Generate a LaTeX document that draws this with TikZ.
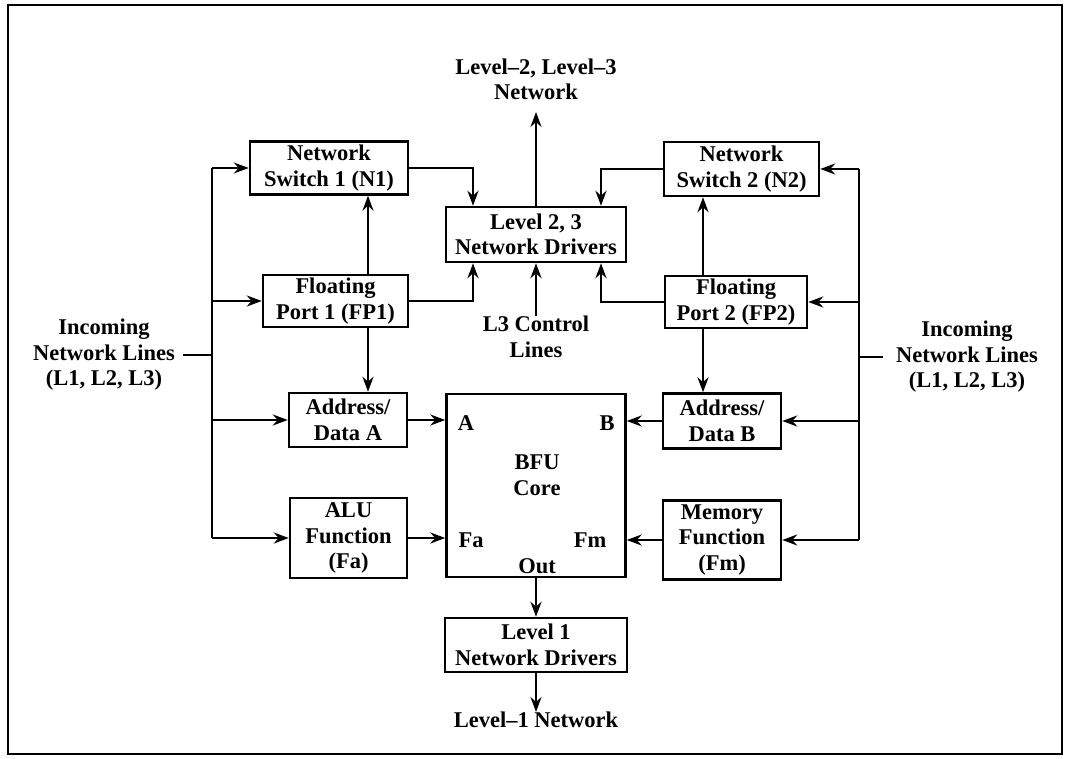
\documentclass[tikz,border=0pt]{standalone}
\usepackage{fontspec}
\setmainfont{Liberation Serif}
\usetikzlibrary{arrows.meta}
\tikzset{
  box/.style={draw, line width=2.5pt, inner sep=0pt, align=center, font=\fontsize{22.5}{25.5}\selectfont\bfseries},
  lbl/.style={inner sep=0pt, align=center, font=\fontsize{22.5}{25.5}\selectfont\bfseries},
  ln/.style={line width=2.5pt},
  arr/.style={line width=2.5pt, -{Stealth[length=15pt,width=11pt,inset=5pt]}},
}
\begin{document}
\begin{tikzpicture}[x=1pt,y=-1pt]
\useasboundingbox (0,0) rectangle (1066,759);
\draw[line width=1.2pt] (8,5) rectangle (1062,754);

% boxes
\node[box, minimum width=158pt, minimum height=53pt] (N1) at (329,168) {Network\\Switch 1 (N1)};
\node[box, minimum width=145pt, minimum height=52pt] (FP1) at (335.5,301) {Floating\\Port 1 (FP1)};
\node[box, minimum width=180pt, minimum height=55pt] (D23) at (536,234.5) {Level 2, 3\\Network Drivers};
\node[box, minimum width=155pt, minimum height=54pt] (N2) at (741.5,169) {Network\\Switch 2 (N2)};
\node[box, minimum width=142pt, minimum height=52pt] (FP2) at (736,302) {Floating\\Port 2 (FP2)};
\node[box, minimum width=118pt, minimum height=54pt] (AA) at (348,420) {Address/\\Data A};
\node[box, minimum width=117pt, minimum height=80pt] (ALU) at (348.5,538) {ALU\\Function\\(Fa)};
\node[box, minimum width=118pt, minimum height=55pt] (AB) at (722,421) {Address/\\Data B};
\node[box, minimum width=118pt, minimum height=79pt] (MEM) at (722,540) {Memory\\Function\\(Fm)};
\node[box, minimum width=179pt, minimum height=183pt] (BFU) at (536,485.5) {};
\node[box, minimum width=182pt, minimum height=54pt] (D1) at (536,645) {Level 1\\Network Drivers};

% labels inside BFU
\node[lbl] (lA) at (466,423) {A};
\node[lbl] (lB) at (607,423) {B};
\node[lbl] (lcore) at (537,475) {BFU\\Core};
\node[lbl] (lFa) at (471,540) {Fa};
\node[lbl] (lFm) at (590,540) {Fm};
\node[lbl] (lOut) at (537,566) {Out};

% outside labels
\node[lbl] (inL) at (104,355) {Incoming\\Network Lines\\(L1, L2, L3)};
\node[lbl] (inR) at (967,357) {Incoming\\Network Lines\\(L1, L2, L3)};
\node[lbl, anchor=south] (top) at (536,100) {Level--2, Level--3\\Network};
\node[lbl, anchor=north] (l3) at (536,316) {L3 Control\\Lines};
\node[lbl, anchor=north] (l1) at (536,712) {Level--1 Network};

% coordinates
\coordinate (lbT) at (212,168);
\coordinate (lbF) at (212,301);
\coordinate (lbM) at (212,355);
\coordinate (lbA) at (212,420);
\coordinate (lbU) at (212,538);
\coordinate (rbT) at (859,169);
\coordinate (rbF) at (859,302);
\coordinate (rbM) at (859,357);
\coordinate (rbA) at (859,421);
\coordinate (rbU) at (859,540);
\coordinate (xL) at (473,0);
\coordinate (xR) at (601,0);
\coordinate (x1) at (368,0);
\coordinate (x2) at (703,0);
\coordinate (topend) at (536,112);

% left bus
\draw[ln] (lbT) -- (lbU);
\draw[ln] (inL.east |- lbM) ++(8,0) -- (lbM);
\draw[arr] (lbT) -- (N1.west);
\draw[arr] (lbF) -- (FP1.west);
\draw[arr] (lbA) -- (AA.west);
\draw[arr] (lbU) -- (ALU.west);

% right bus
\draw[ln] (rbT) -- (rbU);
\draw[ln] (rbM) -- ++(24,0);
\draw[arr] (rbT) -- (N2.east);
\draw[arr] (rbF) -- (FP2.east);
\draw[arr] (rbA) -- (AB.east);
\draw[arr] (rbU) -- (MEM.east);

% to level 2,3 drivers
\draw[arr] (N1.east) -| (D23.north -| xL);
\draw[arr] (FP1.east) -| (D23.south -| xL);
\draw[arr] (N2.west) -| (D23.north -| xR);
\draw[arr] (FP2.west) -| (D23.south -| xR);
\draw[arr] (D23.north) -- (topend);
\draw[arr] (l3.north) -- (D23.south);

% floating ports
\draw[arr] (FP1.north -| x1) -- (N1.south -| x1);
\draw[arr] (FP1.south -| x1) -- (AA.north -| x1);
\draw[arr] (FP2.north -| x2) -- (N2.south -| x2);
\draw[arr] (FP2.south -| x2) -- (AB.north -| x2);

% into BFU
\draw[arr] (AA.east) -- (BFU.west |- AA.east);
\draw[arr] (ALU.east) -- (BFU.west |- ALU.east);
\draw[arr] (AB.west) -- (BFU.east |- AB.west);
\draw[arr] (MEM.west) -- (BFU.east |- MEM.west);

% output
\draw[arr] (BFU.south) -- (D1.north);
\draw[arr] (D1.south) -- (l1.north);
\end{tikzpicture}
\end{document}
